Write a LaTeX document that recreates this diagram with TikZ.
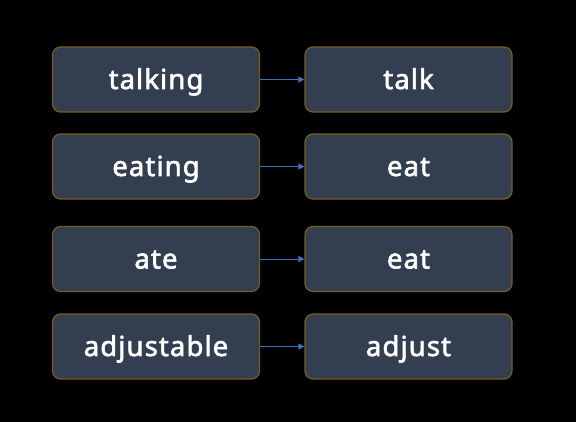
\documentclass[tikz,border=0pt]{standalone}
\usepackage{fontspec}
\setmainfont{Noto Sans}[FakeBold=2.2, LetterSpace=4]
\usetikzlibrary{arrows.meta}
\definecolor{boxfill}{HTML}{333E50}
\definecolor{boxline}{HTML}{7A5C1E}
\definecolor{arrowc}{HTML}{3F6FC0}
\tikzset{
  wordbox/.style={draw=boxline, line width=1.2pt, fill=boxfill, rounded corners=8pt,
    minimum width=207pt, minimum height=65pt, text=white, font=\fontsize{27.5}{30}\selectfont,
    inner sep=0pt, text height=25pt, text depth=6pt},
  link/.style={draw=arrowc, line width=0.8pt, -{Triangle[length=6pt,width=6pt]}}
}
\begin{document}
\begin{tikzpicture}[x=1pt,y=1pt]
\fill[black] (0,0) rectangle (576,422);
\useasboundingbox (0,0) rectangle (576,422);
\node[wordbox] (l1) at (156,342.5) {talking};
\node[wordbox] (r1) at (408.5,342.5) {talk};
\node[wordbox] (l2) at (156,255.5) {eating};
\node[wordbox] (r2) at (408.5,255.5) {eat};
\node[wordbox] (l3) at (156,163) {ate};
\node[wordbox] (r3) at (408.5,163) {eat};
\node[wordbox] (l4) at (156,75.5) {adjustable};
\node[wordbox] (r4) at (408.5,75.5) {adjust};
\foreach \i in {1,...,4} {\draw[link] (l\i) -- (r\i);}
\end{tikzpicture}
\end{document}
